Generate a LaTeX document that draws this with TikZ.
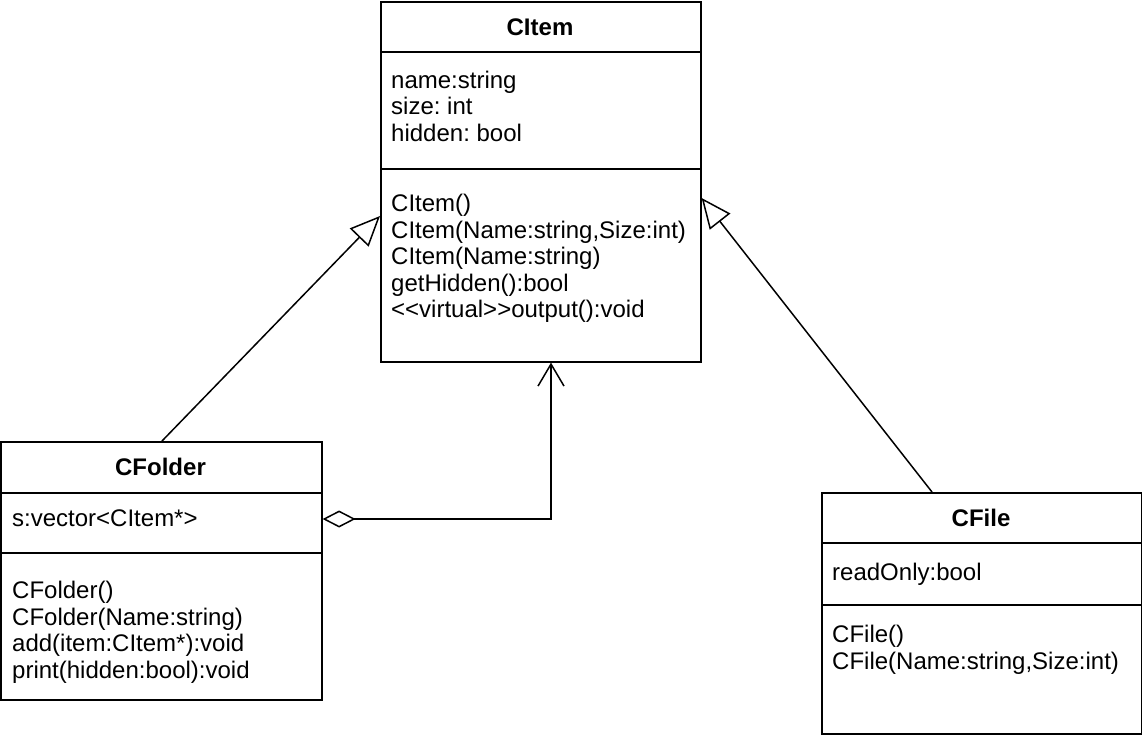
\documentclass[tikz,border=0pt]{standalone}
\usepackage{fontspec}
\setmainfont{Liberation Sans}
\usetikzlibrary{arrows.meta,calc}
\frenchspacing
\begin{document}
\begin{tikzpicture}[x=1pt,y=-1pt,
  box/.style={draw,line width=1.6pt,anchor=north west,inner sep=0pt},
  sep/.style={line width=1.6pt},
  title/.style={font=\fontsize{24}{26.5}\selectfont\bfseries,inner sep=0pt},
  txt/.style={font=\fontsize{24}{26.5}\selectfont,align=left,anchor=north west,inner sep=0pt},
  conn/.style={line width=1.5pt},
  gen/.style={conn,-{Triangle[open,length=30pt,width=26pt,fill=white]}},
  aggr/.style={conn,{Diamond[open,length=33pt,width=17pt,fill=white]}-{Straight Barb[length=22pt,width=26pt]}}
]
\useasboundingbox (0,0) rectangle (1142,740);
% CItem
\node[box,minimum width=320pt,minimum height=360pt] (citem) at (380,1) {};
\draw[sep] (380,52) -- (700,52);
\draw[sep] (380,169) -- (700,169);
\node[title] (citemt) at (540,27) {CItem};
\node[txt] (citema) at (391,69.5) {\strut name:string\\size: int\\hidden: bool};
\node[txt] (citemm) at (391,193) {\strut CItem()\\CItem(Name:string,Size:int)\\CItem(Name:string)\\getHidden():bool\\<{}<virtual>{}>output():void};
% CFolder
\node[box,minimum width=321pt,minimum height=258pt] (cfolder) at (0,441) {};
\draw[sep] (0,493) -- (321,493);
\draw[sep] (0,553) -- (321,553);
\node[title] (cfoldert) at (160.5,467) {CFolder};
\node[txt] (cfoldera) at (12,508) {\strut s:vector<CItem*>};
\node[txt] (cfolderm) at (12,580) {\strut CFolder()\\CFolder(Name:string)\\add(item:CItem*):void\\print(hidden:bool):void};
% CFile
\node[box,minimum width=320pt,minimum height=241pt] (cfile) at (821,492) {};
\draw[sep] (821,543) -- (1141,543);
\draw[sep] (821,605) -- (1141,605);
\node[title] (cfilet) at (981,518) {CFile};
\node[txt] (cfilea) at (832,562) {\strut readOnly:bool};
\node[txt] (cfilem) at (832,624) {\strut CFile()\\CFile(Name:string,Size:int)};
% connectors
\draw[gen] ($(cfolder.north west)+(162,0)$) -- ($(citem.north west)+(0,215)$);
\draw[gen] ($(cfile.north west)+(111,0)$) -- ($(citem.north east)+(0,197)$);
\draw[aggr] ($(cfolder.north east)+(0,78)$) -| ($(citem.south west)+(171,0)$);
\end{tikzpicture}
\end{document}
